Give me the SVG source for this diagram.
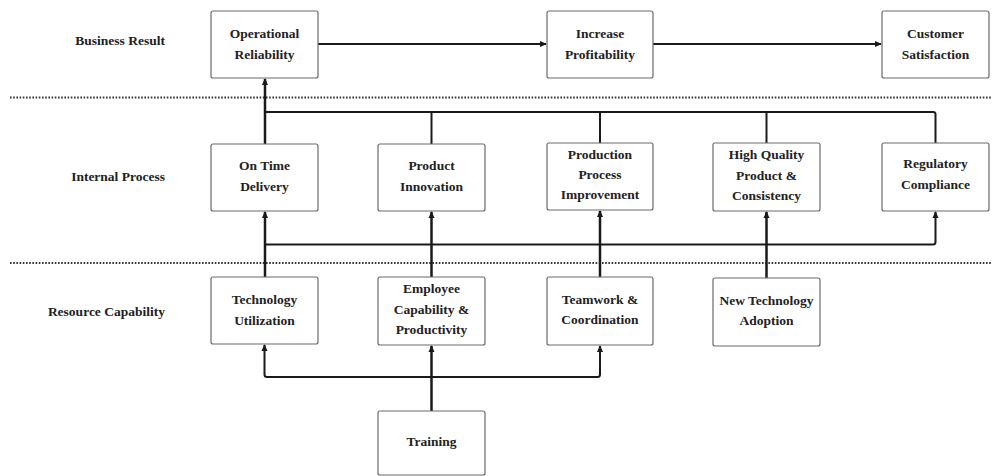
<svg xmlns="http://www.w3.org/2000/svg" width="992" height="476" viewBox="0 0 992 476">
<style>
.box{fill:#fff;stroke:#6b6b6b;stroke-width:1.2}
.t{font-family:'Liberation Serif','Times New Roman',serif;font-weight:bold;font-size:13.5px;fill:#222;text-anchor:middle}
.lab{font-family:'Liberation Serif','Times New Roman',serif;font-weight:bold;font-size:13.5px;fill:#222;text-anchor:end}
.c{fill:none;stroke:#1a1a1a;stroke-width:2;stroke-linejoin:round}
.v{fill:none;stroke:#1a1a1a;stroke-width:2.5}
.dot{stroke:#333;stroke-width:2;stroke-dasharray:1.6 1.6}
</style>
<defs>
<marker id="ah" markerWidth="7" markerHeight="7" refX="6" refY="3.5" orient="auto" markerUnits="userSpaceOnUse">
<path d="M0,0.5 L7,3.5 L0,6.5 Z" fill="#1a1a1a"/>
</marker>
</defs>
<rect width="992" height="476" fill="#fff"/>
<g id="lanes">
<line class="dot" x1="10" y1="97.5" x2="992" y2="97.5"/>
<line class="dot" x1="10" y1="263" x2="992" y2="263"/>
<text class="lab" x="165" y="45">Business Result</text>
<text class="lab" x="165" y="181">Internal Process</text>
<text class="lab" x="165" y="316">Resource Capability</text>
</g>
<g id="connectors">
<line class="c" x1="318" y1="44" x2="546" y2="44" marker-end="url(#ah)"/>
<line class="c" x1="653" y1="44" x2="881" y2="44" marker-end="url(#ah)"/>
<line class="v" x1="265" y1="144" x2="265" y2="79" marker-end="url(#ah)"/>
<path class="c" d="M265,112 H933 Q935.5,112 935.5,114 V144"/>
<line class="c" x1="431.5" y1="112" x2="431.5" y2="144"/>
<line class="c" x1="600" y1="112" x2="600" y2="143"/>
<line class="c" x1="766.5" y1="112" x2="766.5" y2="144"/>
<line class="v" x1="265" y1="277" x2="265" y2="212" marker-end="url(#ah)"/>
<path class="c" d="M265,244.5 H933 Q935.5,244.5 935.5,242 V212" marker-end="url(#ah)"/>
<line class="v" x1="431.5" y1="277" x2="431.5" y2="212" marker-end="url(#ah)"/>
<line class="v" x1="600" y1="277" x2="600" y2="211" marker-end="url(#ah)"/>
<line class="v" x1="766.5" y1="278" x2="766.5" y2="212" marker-end="url(#ah)"/>
<path class="c" d="M431.5,377 H267 Q264.5,377 264.5,374.5 V345" marker-end="url(#ah)"/>
<path class="c" d="M431.5,377 H597.5 Q600,377 600,374.5 V346" marker-end="url(#ah)"/>
<line class="v" x1="431.5" y1="411" x2="431.5" y2="346" marker-end="url(#ah)"/>
</g>
<g id="operational-reliability">
<rect class="box" x="211" y="11" width="107" height="67" rx="2"/>
<text class="t" x="264.5" y="38">Operational</text>
<text class="t" x="264.5" y="59">Reliability</text>
</g>
<g id="increase-profitability">
<rect class="box" x="547" y="11" width="106" height="67" rx="2"/>
<text class="t" x="600" y="38">Increase</text>
<text class="t" x="600" y="59">Profitability</text>
</g>
<g id="customer-satisfaction">
<rect class="box" x="882" y="11" width="107" height="67" rx="2"/>
<text class="t" x="935.5" y="38">Customer</text>
<text class="t" x="935.5" y="59">Satisfaction</text>
</g>
<g id="on-time-delivery">
<rect class="box" x="211" y="144" width="107" height="67" rx="2"/>
<text class="t" x="264.5" y="170">On Time</text>
<text class="t" x="264.5" y="191">Delivery</text>
</g>
<g id="product-innovation">
<rect class="box" x="378" y="144" width="107" height="67" rx="2"/>
<text class="t" x="431.5" y="170">Product</text>
<text class="t" x="431.5" y="191">Innovation</text>
</g>
<g id="production-process-improvement">
<rect class="box" x="547" y="143" width="106" height="67" rx="2"/>
<text class="t" x="600" y="159">Production</text>
<text class="t" x="600" y="179">Process</text>
<text class="t" x="600" y="199">Improvement</text>
</g>
<g id="high-quality">
<rect class="box" x="713" y="143" width="107" height="68" rx="2"/>
<text class="t" x="766.5" y="159">High Quality</text>
<text class="t" x="766.5" y="180">Product &amp;</text>
<text class="t" x="766.5" y="200">Consistency</text>
</g>
<g id="regulatory-compliance">
<rect class="box" x="882" y="143" width="107" height="68" rx="2"/>
<text class="t" x="935.5" y="168">Regulatory</text>
<text class="t" x="935.5" y="189">Compliance</text>
</g>
<g id="technology-utilization">
<rect class="box" x="211" y="277" width="107" height="67" rx="2"/>
<text class="t" x="264.5" y="304">Technology</text>
<text class="t" x="264.5" y="325">Utilization</text>
</g>
<g id="employee-capability">
<rect class="box" x="378" y="277" width="107" height="68" rx="2"/>
<text class="t" x="431.5" y="293">Employee</text>
<text class="t" x="431.5" y="314">Capability &amp;</text>
<text class="t" x="431.5" y="334">Productivity</text>
</g>
<g id="teamwork-coordination">
<rect class="box" x="547" y="277" width="106" height="68" rx="2"/>
<text class="t" x="600" y="304">Teamwork &amp;</text>
<text class="t" x="600" y="324">Coordination</text>
</g>
<g id="new-technology-adoption">
<rect class="box" x="713" y="278" width="107" height="68" rx="2"/>
<text class="t" x="766.5" y="305">New Technology</text>
<text class="t" x="766.5" y="325">Adoption</text>
</g>
<g id="training">
<rect class="box" x="378" y="411" width="107" height="64" rx="2"/>
<text class="t" x="431.5" y="446">Training</text>
</g>
</svg>
